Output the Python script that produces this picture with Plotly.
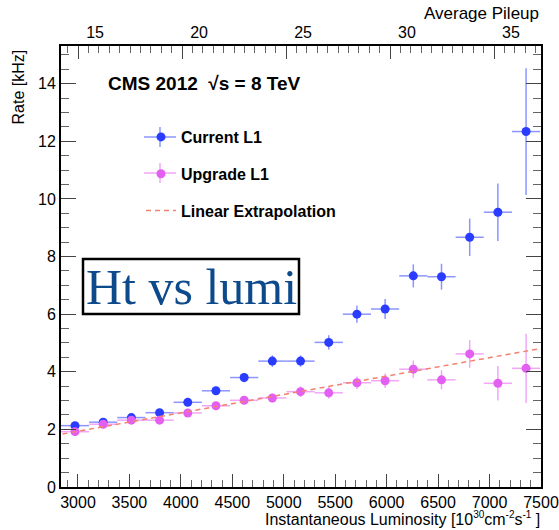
import plotly.graph_objects as go

# ---- data ----
lumi = [2971, 3245, 3519, 3793, 4067, 4341, 4615, 4889, 5163, 5437,
        5711, 5985, 6259, 6533, 6807, 7081, 7355]
lumi_err = [137] * 17
current_l1 = [2.13, 2.25, 2.41, 2.58, 2.94, 3.34, 3.80, 4.37, 4.37, 5.02,
              6.00, 6.18, 7.33, 7.30, 8.67, 9.54, 12.34]
current_err = [0.08, 0.08, 0.09, 0.10, 0.12, 0.14, 0.16, 0.20, 0.20, 0.25,
               0.30, 0.35, 0.40, 0.45, 0.65, 1.00, 2.20]
upgrade_l1 = [1.92, 2.18, 2.32, 2.32, 2.57, 2.82, 3.01, 3.09, 3.31, 3.27,
              3.62, 3.69, 4.09, 3.72, 4.62, 3.60, 4.12]
upgrade_err = [0.08, 0.08, 0.08, 0.09, 0.10, 0.12, 0.14, 0.15, 0.18, 0.20,
               0.22, 0.25, 0.30, 0.33, 0.48, 0.60, 1.20]
fit_x = [2850, 7500]
fit_y = [1.84, 4.81]

x_ticks = [3000, 3500, 4000, 4500, 5000, 5500, 6000, 6500, 7000, 7500]
pileup_ticks = [15, 20, 25, 30, 35]
y_ticks = [0, 2, 4, 6, 8, 10, 12, 14]

BLUE = "#2a3cff"
BLUE_ERR = "rgba(120,130,255,0.85)"
PINK = "#e35ff2"
PINK_ERR = "rgba(240,150,245,0.85)"
LINE = "#f2826f"
FONT = "Liberation Sans, Arial, sans-serif"

fig = go.Figure()

fig.add_trace(go.Scatter(
    x=lumi, y=current_l1, mode="markers",
    marker=dict(color=BLUE, size=9),
    error_x=dict(type="data", array=lumi_err, color=BLUE_ERR, thickness=1.5, width=0),
    error_y=dict(type="data", array=current_err, color=BLUE_ERR, thickness=1.5, width=0),
    name="<b>Current L1</b>", legendgroup="a",
))
fig.add_trace(go.Scatter(
    x=lumi, y=upgrade_l1, mode="markers",
    marker=dict(color=PINK, size=9),
    error_x=dict(type="data", array=lumi_err, color=PINK_ERR, thickness=1.5, width=0),
    error_y=dict(type="data", array=upgrade_err, color=PINK_ERR, thickness=1.5, width=0),
    name="<b>Upgrade L1</b>", legendgroup="b",
))
fig.add_trace(go.Scatter(
    x=fit_x, y=fit_y, mode="lines",
    line=dict(color=LINE, width=1.5, dash="5px,4px"),
    name="<b>Linear Extrapolation</b>", legendgroup="c",
))
# invisible trace to activate the top axis
fig.add_trace(go.Scatter(x=[20], y=[0], xaxis="x2", mode="markers",
                         marker=dict(opacity=0), showlegend=False, hoverinfo="skip"))

W, H = 559, 530
L, R, T, B = 61, 18, 46, 43

def px(xp):
    return (xp - L) / (W - L - R)

def py(yp):
    return (H - B - yp) / (H - T - B)

fig.update_layout(
    width=W, height=H,
    margin=dict(l=L, r=R, t=T, b=B, autoexpand=False),
    paper_bgcolor="white", plot_bgcolor="white",
    font=dict(family=FONT, size=16, color="black"),
    showlegend=True,
    legend=dict(x=px(141), y=py(120), xanchor="left", yanchor="top",
                bgcolor="rgba(0,0,0,0)", font=dict(size=16, family=FONT),
                traceorder="grouped", tracegroupgap=13, itemwidth=30),
    xaxis=dict(range=[2835, 7500], tickvals=x_ticks, ticks="inside", ticklen=13,
               tickwidth=1, tickcolor="#444", showline=True, linecolor="black", linewidth=2,
               showgrid=False, zeroline=False, tickfont=dict(size=16), automargin=False,
               minor=dict(dtick=100, ticklen=7, ticks="inside", tickcolor="#666", tick0=0)),
    xaxis2=dict(overlaying="x", side="top", range=[14.18, 37.26],
                tickvals=pileup_ticks, ticks="inside",
                ticklen=13, tickcolor="#444", showline=True, linecolor="black", linewidth=2,
                showgrid=False, zeroline=False, tickfont=dict(size=16), ticklabelshift=17,
                automargin=False,
                minor=dict(dtick=0.5, ticklen=7, ticks="inside", tickcolor="#666", tick0=0)),
    yaxis=dict(range=[0, 15.31], tickvals=y_ticks, ticks="inside", ticklen=15,
               tickcolor="#444", showline=True, linecolor="black", linewidth=2, mirror="ticks",
               showgrid=False, zeroline=False, tickfont=dict(size=16), automargin=False,
               minor=dict(dtick=0.5, ticklen=8, ticks="inside", tickcolor="#666")),
)

SUP = "<span style='font-size:10px'>{}</span>"
annotations = [
    dict(text="<b>CMS 2012  \u221As = 8 TeV</b>", xref="paper", yref="paper",
         x=px(106), y=py(84), xanchor="left", yanchor="middle", showarrow=False,
         font=dict(size=19, family=FONT)),
    dict(text="Rate [kHz]", xref="paper", yref="paper", x=px(18), y=py(48),
         xanchor="center", yanchor="top", textangle=-90, showarrow=False,
         font=dict(size=16, family=FONT)),
    dict(text="Instantaneous Luminosity [10<sup>" + SUP.format("30") + "</sup>cm<sup>"
         + SUP.format("-2") + "</sup>s<sup>" + SUP.format("-1") + "</sup> ]",
         xref="paper", yref="paper", x=px(541), y=py(529), xanchor="right", yanchor="bottom",
         height=18, valign="bottom", borderpad=0,
         showarrow=False, font=dict(size=16, family=FONT)),
    dict(text="Average Pileup", xref="paper", yref="paper", x=px(541), y=py(25),
         xanchor="right", yanchor="bottom", showarrow=False,
         font=dict(size=17, family=FONT)),
    dict(text="Ht vs lumi", xref="paper", yref="paper", x=px(191), y=py(287),
         xanchor="center", yanchor="middle", showarrow=False,
         font=dict(size=50, family="Liberation Serif, DejaVu Serif, serif", color="#0d4a8c")),
]
fig.update_layout(annotations=annotations)
fig.add_shape(type="rect", xref="paper", yref="paper",
              x0=px(83), x1=px(299), y0=py(314), y1=py(259),
              line=dict(color="black", width=2.5), fillcolor="white", layer="above")

# error-bar crosses behind the legend markers (legend decoration)
legend_keys = [(137, BLUE_ERR), (173, PINK_ERR)]
for yk, col in legend_keys:
    fig.add_shape(type="line", xref="paper", yref="paper",
                  x0=px(144), x1=px(176), y0=py(yk), y1=py(yk),
                  line=dict(color=col, width=1.5), layer="above")
    fig.add_shape(type="line", xref="paper", yref="paper",
                  x0=px(160), x1=px(160), y0=py(yk - 10), y1=py(yk + 10),
                  line=dict(color=col, width=1.5), layer="above")
fig.write_html("out.html")
